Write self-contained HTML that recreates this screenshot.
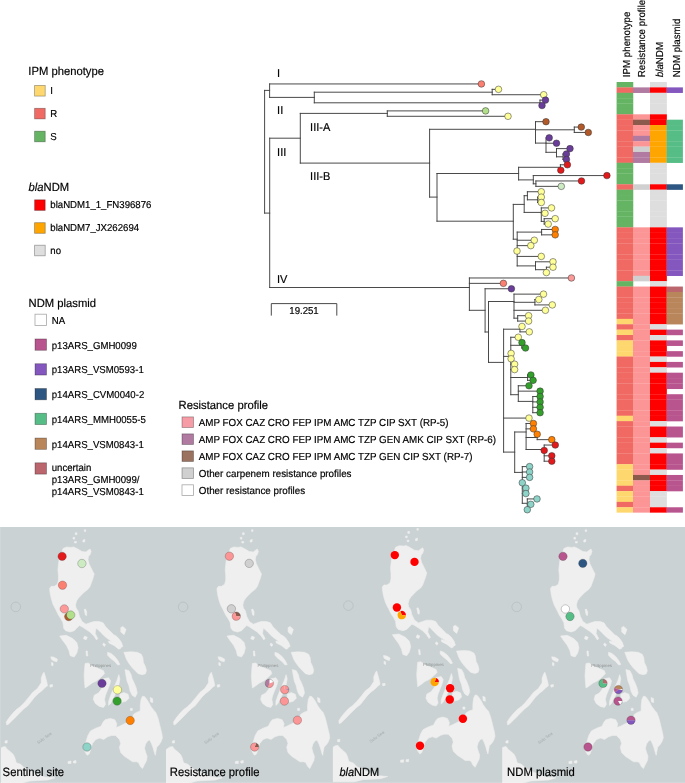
<!DOCTYPE html><html><head><meta charset="utf-8"><style>
html,body{margin:0;padding:0;background:#fff;width:685px;height:783px;overflow:hidden}
svg{display:block;font-family:"Liberation Sans",sans-serif;text-rendering:geometricPrecision;will-change:transform}
</style></head><body>
<svg width="685" height="783" viewBox="0 0 685 783">
<g fill="#000" stroke="#000" stroke-width="0.18">
<text transform="translate(28.3 75) scale(1 1.04)" font-size="11.25">IPM phenotype</text>
<rect x="34.6" y="85.5" width="10.6" height="10.6" fill="#fed86f" stroke="#000" stroke-opacity="0.35" stroke-width="0.8"/>
<text transform="translate(50.3 94.3) scale(1 1.04)" font-size="9.65">I</text>
<rect x="34.6" y="108.3" width="10.6" height="10.6" fill="#f06a63" stroke="#000" stroke-opacity="0.35" stroke-width="0.8"/>
<text transform="translate(50.3 117.1) scale(1 1.04)" font-size="9.65">R</text>
<rect x="34.6" y="131.2" width="10.6" height="10.6" fill="#64b463" stroke="#000" stroke-opacity="0.35" stroke-width="0.8"/>
<text transform="translate(50.3 140) scale(1 1.04)" font-size="9.65">S</text>
<text transform="translate(28.6 190.5) scale(1 1.04)" font-size="11.25"><tspan font-style="italic">bla</tspan>NDM</text>
<rect x="34.6" y="199.8" width="10.6" height="10.6" fill="#ff0000" stroke="#000" stroke-opacity="0.35" stroke-width="0.8"/>
<text transform="translate(50.3 208.4) scale(1 1.04)" font-size="9.65">blaNDM1_1_FN396876</text>
<rect x="34.6" y="222.7" width="10.6" height="10.6" fill="#ffa500" stroke="#000" stroke-opacity="0.35" stroke-width="0.8"/>
<text transform="translate(50.3 231.3) scale(1 1.04)" font-size="9.65">blaNDM7_JX262694</text>
<rect x="34.6" y="245.2" width="10.6" height="10.6" fill="#dedede" stroke="#000" stroke-opacity="0.35" stroke-width="0.8"/>
<text transform="translate(50.3 253.8) scale(1 1.04)" font-size="9.65">no</text>
<text transform="translate(28.6 306.8) scale(1 1.04)" font-size="11.25">NDM plasmid</text>
<rect x="35" y="314.2" width="11.5" height="11.3" fill="#ffffff" stroke="#000" stroke-opacity="0.35" stroke-width="0.8"/>
<text transform="translate(51.7 323.9) scale(1 1.04)" font-size="9.65">NA</text>
<rect x="35" y="338.97" width="11.5" height="11.3" fill="#b9558e" stroke="#000" stroke-opacity="0.35" stroke-width="0.8"/>
<text transform="translate(51.7 348.67) scale(1 1.04)" font-size="9.65">p13ARS_GMH0099</text>
<rect x="35" y="363.74" width="11.5" height="11.3" fill="#8457be" stroke="#000" stroke-opacity="0.35" stroke-width="0.8"/>
<text transform="translate(51.7 373.44) scale(1 1.04)" font-size="9.65">p13ARS_VSM0593-1</text>
<rect x="35" y="388.51" width="11.5" height="11.3" fill="#2d5682" stroke="#000" stroke-opacity="0.35" stroke-width="0.8"/>
<text transform="translate(51.7 398.21) scale(1 1.04)" font-size="9.65">p14ARS_CVM0040-2</text>
<rect x="35" y="413.28" width="11.5" height="11.3" fill="#55bd85" stroke="#000" stroke-opacity="0.35" stroke-width="0.8"/>
<text transform="translate(51.7 422.98) scale(1 1.04)" font-size="9.65">p14ARS_MMH0055-5</text>
<rect x="35" y="438.05" width="11.5" height="11.3" fill="#b9855a" stroke="#000" stroke-opacity="0.35" stroke-width="0.8"/>
<text transform="translate(51.7 447.75) scale(1 1.04)" font-size="9.65">p14ARS_VSM0843-1</text>
<rect x="35" y="462.82" width="11.5" height="11.3" fill="#bb656d" stroke="#000" stroke-opacity="0.35" stroke-width="0.8"/>
<text transform="translate(51.7 471.42) scale(1 1.04)" font-size="9.65">uncertain</text>
<text transform="translate(51.7 483.02) scale(1 1.04)" font-size="9.65">p13ARS_GMH0099/</text>
<text transform="translate(51.7 494.62) scale(1 1.04)" font-size="9.65">p14ARS_VSM0843-1</text>
<text transform="translate(178.6 409.2) scale(1 1.04)" font-size="11.25">Resistance profile</text>
<rect x="182" y="416.9" width="11.5" height="10.6" fill="#f59ca6" stroke="#000" stroke-opacity="0.35" stroke-width="0.8"/>
<text transform="translate(198.8 426) scale(1 1.04)" font-size="9.82">AMP FOX CAZ CRO FEP IPM AMC TZP CIP SXT (RP-5)</text>
<rect x="182" y="433.88" width="11.5" height="10.6" fill="#b07aa1" stroke="#000" stroke-opacity="0.35" stroke-width="0.8"/>
<text transform="translate(198.8 442.98) scale(1 1.04)" font-size="9.82">AMP FOX CAZ CRO FEP IPM AMC TZP GEN AMK CIP SXT (RP-6)</text>
<rect x="182" y="450.86" width="11.5" height="10.6" fill="#9b725f" stroke="#000" stroke-opacity="0.35" stroke-width="0.8"/>
<text transform="translate(198.8 459.96) scale(1 1.04)" font-size="9.82">AMP FOX CAZ CRO FEP IPM AMC TZP GEN CIP SXT (RP-7)</text>
<rect x="182" y="467.84" width="11.5" height="10.6" fill="#d0d0d0" stroke="#000" stroke-opacity="0.35" stroke-width="0.8"/>
<text transform="translate(198.8 476.94) scale(1 1.04)" font-size="9.82">Other carpenem resistance profiles</text>
<rect x="182" y="484.82" width="11.5" height="10.6" fill="#ffffff" stroke="#000" stroke-opacity="0.35" stroke-width="0.8"/>
<text transform="translate(198.8 493.92) scale(1 1.04)" font-size="9.82">Other resistance profiles</text>
<text transform="translate(277.1 76.6) scale(1 1.04)" font-size="11">I</text>
<text transform="translate(277.1 114.1) scale(1 1.04)" font-size="11">II</text>
<text transform="translate(277.1 156) scale(1 1.04)" font-size="11">III</text>
<text transform="translate(310.1 131.1) scale(1 1.04)" font-size="11">III-A</text>
<text transform="translate(310.1 179.9) scale(1 1.04)" font-size="11">III-B</text>
<text transform="translate(277 283.2) scale(1 1.04)" font-size="11">IV</text>
<text transform="translate(304 314.3) scale(1 1.04)" font-size="9.65" text-anchor="middle">19.251</text>
<text transform="translate(629.6,77.2) rotate(-90) scale(1 1.04)" font-size="9.75">IPM phenotype</text>
<text transform="translate(645.2,77.2) rotate(-90) scale(1 1.04)" font-size="9.75">Resistance profile</text>
<text transform="translate(662.6,77.2) rotate(-90) scale(1 1.04)" font-size="9.75"><tspan font-style="italic">bla</tspan>NDM</text>
<text transform="translate(680.3,77.2) rotate(-90) scale(1 1.04)" font-size="9.75">NDM plasmid</text>
</g>
<rect x="616.6" y="82" width="16.65" height="5.58" fill="#64b463"/>
<rect x="650" y="82" width="16.85" height="5.58" fill="#dedede"/>
<rect x="616.6" y="87.38" width="16.65" height="5.58" fill="#f06a63"/>
<rect x="633" y="87.38" width="17.25" height="5.58" fill="#b07aa1"/>
<rect x="650" y="87.38" width="16.85" height="5.58" fill="#ff0000"/>
<rect x="666.6" y="87.38" width="16.3" height="5.58" fill="#8457be"/>
<rect x="616.6" y="92.77" width="16.65" height="5.58" fill="#64b463"/>
<rect x="650" y="92.77" width="16.85" height="5.58" fill="#dedede"/>
<rect x="616.6" y="98.15" width="16.65" height="5.58" fill="#64b463"/>
<rect x="650" y="98.15" width="16.85" height="5.58" fill="#dedede"/>
<rect x="616.6" y="103.53" width="16.65" height="5.58" fill="#64b463"/>
<rect x="650" y="103.53" width="16.85" height="5.58" fill="#dedede"/>
<rect x="616.6" y="108.91" width="16.65" height="5.58" fill="#64b463"/>
<rect x="650" y="108.91" width="16.85" height="5.58" fill="#dedede"/>
<rect x="616.6" y="114.3" width="16.65" height="5.58" fill="#f06a63"/>
<rect x="633" y="114.3" width="17.25" height="5.58" fill="#fc9595"/>
<rect x="650" y="114.3" width="16.85" height="5.58" fill="#ff0000"/>
<rect x="616.6" y="119.68" width="16.65" height="5.58" fill="#f06a63"/>
<rect x="633" y="119.68" width="17.25" height="5.58" fill="#8c5a4c"/>
<rect x="650" y="119.68" width="16.85" height="5.58" fill="#ff0000"/>
<rect x="666.6" y="119.68" width="16.3" height="5.58" fill="#55bd85"/>
<rect x="616.6" y="125.06" width="16.65" height="5.58" fill="#f06a63"/>
<rect x="633" y="125.06" width="17.25" height="5.58" fill="#fc9595"/>
<rect x="650" y="125.06" width="16.85" height="5.58" fill="#ffa500"/>
<rect x="666.6" y="125.06" width="16.3" height="5.58" fill="#55bd85"/>
<rect x="616.6" y="130.45" width="16.65" height="5.58" fill="#f06a63"/>
<rect x="633" y="130.45" width="17.25" height="5.58" fill="#fc9595"/>
<rect x="650" y="130.45" width="16.85" height="5.58" fill="#ffa500"/>
<rect x="666.6" y="130.45" width="16.3" height="5.58" fill="#55bd85"/>
<rect x="616.6" y="135.83" width="16.65" height="5.58" fill="#f06a63"/>
<rect x="633" y="135.83" width="17.25" height="5.58" fill="#b07aa1"/>
<rect x="650" y="135.83" width="16.85" height="5.58" fill="#ffa500"/>
<rect x="666.6" y="135.83" width="16.3" height="5.58" fill="#55bd85"/>
<rect x="616.6" y="141.21" width="16.65" height="5.58" fill="#f06a63"/>
<rect x="633" y="141.21" width="17.25" height="5.58" fill="#fc9595"/>
<rect x="650" y="141.21" width="16.85" height="5.58" fill="#ffa500"/>
<rect x="666.6" y="141.21" width="16.3" height="5.58" fill="#55bd85"/>
<rect x="616.6" y="146.6" width="16.65" height="5.58" fill="#f06a63"/>
<rect x="633" y="146.6" width="17.25" height="5.58" fill="#d0d0d0"/>
<rect x="650" y="146.6" width="16.85" height="5.58" fill="#ffa500"/>
<rect x="666.6" y="146.6" width="16.3" height="5.58" fill="#55bd85"/>
<rect x="616.6" y="151.98" width="16.65" height="5.58" fill="#f06a63"/>
<rect x="633" y="151.98" width="17.25" height="5.58" fill="#b07aa1"/>
<rect x="650" y="151.98" width="16.85" height="5.58" fill="#ffa500"/>
<rect x="666.6" y="151.98" width="16.3" height="5.58" fill="#55bd85"/>
<rect x="616.6" y="157.36" width="16.65" height="5.58" fill="#f06a63"/>
<rect x="633" y="157.36" width="17.25" height="5.58" fill="#b07aa1"/>
<rect x="650" y="157.36" width="16.85" height="5.58" fill="#ffa500"/>
<rect x="666.6" y="157.36" width="16.3" height="5.58" fill="#55bd85"/>
<rect x="616.6" y="162.75" width="16.65" height="5.58" fill="#64b463"/>
<rect x="650" y="162.75" width="16.85" height="5.58" fill="#dedede"/>
<rect x="616.6" y="168.13" width="16.65" height="5.58" fill="#64b463"/>
<rect x="650" y="168.13" width="16.85" height="5.58" fill="#dedede"/>
<rect x="616.6" y="173.51" width="16.65" height="5.58" fill="#64b463"/>
<rect x="650" y="173.51" width="16.85" height="5.58" fill="#dedede"/>
<rect x="616.6" y="178.89" width="16.65" height="5.58" fill="#64b463"/>
<rect x="650" y="178.89" width="16.85" height="5.58" fill="#dedede"/>
<rect x="616.6" y="184.28" width="16.65" height="5.58" fill="#f06a63"/>
<rect x="633" y="184.28" width="17.25" height="5.58" fill="#d0d0d0"/>
<rect x="650" y="184.28" width="16.85" height="5.58" fill="#ff0000"/>
<rect x="666.6" y="184.28" width="16.3" height="5.58" fill="#2d5682"/>
<rect x="616.6" y="189.66" width="16.65" height="5.58" fill="#64b463"/>
<rect x="650" y="189.66" width="16.85" height="5.58" fill="#dedede"/>
<rect x="616.6" y="195.04" width="16.65" height="5.58" fill="#64b463"/>
<rect x="650" y="195.04" width="16.85" height="5.58" fill="#dedede"/>
<rect x="616.6" y="200.43" width="16.65" height="5.58" fill="#64b463"/>
<rect x="650" y="200.43" width="16.85" height="5.58" fill="#dedede"/>
<rect x="616.6" y="205.81" width="16.65" height="5.58" fill="#64b463"/>
<rect x="650" y="205.81" width="16.85" height="5.58" fill="#dedede"/>
<rect x="616.6" y="211.19" width="16.65" height="5.58" fill="#64b463"/>
<rect x="650" y="211.19" width="16.85" height="5.58" fill="#dedede"/>
<rect x="616.6" y="216.57" width="16.65" height="5.58" fill="#64b463"/>
<rect x="650" y="216.57" width="16.85" height="5.58" fill="#dedede"/>
<rect x="616.6" y="221.96" width="16.65" height="5.58" fill="#64b463"/>
<rect x="650" y="221.96" width="16.85" height="5.58" fill="#dedede"/>
<rect x="616.6" y="227.34" width="16.65" height="5.58" fill="#f06a63"/>
<rect x="633" y="227.34" width="17.25" height="5.58" fill="#fc9595"/>
<rect x="650" y="227.34" width="16.85" height="5.58" fill="#ff0000"/>
<rect x="666.6" y="227.34" width="16.3" height="5.58" fill="#8457be"/>
<rect x="616.6" y="232.72" width="16.65" height="5.58" fill="#f06a63"/>
<rect x="633" y="232.72" width="17.25" height="5.58" fill="#fc9595"/>
<rect x="650" y="232.72" width="16.85" height="5.58" fill="#ff0000"/>
<rect x="666.6" y="232.72" width="16.3" height="5.58" fill="#8457be"/>
<rect x="616.6" y="238.11" width="16.65" height="5.58" fill="#f06a63"/>
<rect x="633" y="238.11" width="17.25" height="5.58" fill="#fc9595"/>
<rect x="650" y="238.11" width="16.85" height="5.58" fill="#ff0000"/>
<rect x="666.6" y="238.11" width="16.3" height="5.58" fill="#8457be"/>
<rect x="616.6" y="243.49" width="16.65" height="5.58" fill="#f06a63"/>
<rect x="633" y="243.49" width="17.25" height="5.58" fill="#fc9595"/>
<rect x="650" y="243.49" width="16.85" height="5.58" fill="#ff0000"/>
<rect x="666.6" y="243.49" width="16.3" height="5.58" fill="#8457be"/>
<rect x="616.6" y="248.87" width="16.65" height="5.58" fill="#f06a63"/>
<rect x="633" y="248.87" width="17.25" height="5.58" fill="#fc9595"/>
<rect x="650" y="248.87" width="16.85" height="5.58" fill="#ff0000"/>
<rect x="666.6" y="248.87" width="16.3" height="5.58" fill="#8457be"/>
<rect x="616.6" y="254.26" width="16.65" height="5.58" fill="#f06a63"/>
<rect x="633" y="254.26" width="17.25" height="5.58" fill="#fc9595"/>
<rect x="650" y="254.26" width="16.85" height="5.58" fill="#ff0000"/>
<rect x="666.6" y="254.26" width="16.3" height="5.58" fill="#8457be"/>
<rect x="616.6" y="259.64" width="16.65" height="5.58" fill="#f06a63"/>
<rect x="633" y="259.64" width="17.25" height="5.58" fill="#fc9595"/>
<rect x="650" y="259.64" width="16.85" height="5.58" fill="#ff0000"/>
<rect x="666.6" y="259.64" width="16.3" height="5.58" fill="#8457be"/>
<rect x="616.6" y="265.02" width="16.65" height="5.58" fill="#f06a63"/>
<rect x="633" y="265.02" width="17.25" height="5.58" fill="#fc9595"/>
<rect x="650" y="265.02" width="16.85" height="5.58" fill="#ff0000"/>
<rect x="666.6" y="265.02" width="16.3" height="5.58" fill="#8457be"/>
<rect x="616.6" y="270.4" width="16.65" height="5.58" fill="#f06a63"/>
<rect x="633" y="270.4" width="17.25" height="5.58" fill="#fc9595"/>
<rect x="650" y="270.4" width="16.85" height="5.58" fill="#ff0000"/>
<rect x="666.6" y="270.4" width="16.3" height="5.58" fill="#8457be"/>
<rect x="616.6" y="275.79" width="16.65" height="5.58" fill="#f06a63"/>
<rect x="633" y="275.79" width="17.25" height="5.58" fill="#d0d0d0"/>
<rect x="650" y="275.79" width="16.85" height="5.58" fill="#ff0000"/>
<rect x="616.6" y="281.17" width="16.65" height="5.58" fill="#64b463"/>
<rect x="650" y="281.17" width="16.85" height="5.58" fill="#dedede"/>
<rect x="616.6" y="286.55" width="16.65" height="5.58" fill="#f06a63"/>
<rect x="633" y="286.55" width="17.25" height="5.58" fill="#fc9595"/>
<rect x="650" y="286.55" width="16.85" height="5.58" fill="#ff0000"/>
<rect x="666.6" y="286.55" width="16.3" height="5.58" fill="#bb656d"/>
<rect x="616.6" y="291.94" width="16.65" height="5.58" fill="#f06a63"/>
<rect x="633" y="291.94" width="17.25" height="5.58" fill="#fc9595"/>
<rect x="650" y="291.94" width="16.85" height="5.58" fill="#ff0000"/>
<rect x="666.6" y="291.94" width="16.3" height="5.58" fill="#b9855a"/>
<rect x="616.6" y="297.32" width="16.65" height="5.58" fill="#f06a63"/>
<rect x="633" y="297.32" width="17.25" height="5.58" fill="#fc9595"/>
<rect x="650" y="297.32" width="16.85" height="5.58" fill="#ff0000"/>
<rect x="666.6" y="297.32" width="16.3" height="5.58" fill="#b9855a"/>
<rect x="616.6" y="302.7" width="16.65" height="5.58" fill="#f06a63"/>
<rect x="633" y="302.7" width="17.25" height="5.58" fill="#fc9595"/>
<rect x="650" y="302.7" width="16.85" height="5.58" fill="#ff0000"/>
<rect x="666.6" y="302.7" width="16.3" height="5.58" fill="#b9855a"/>
<rect x="616.6" y="308.09" width="16.65" height="5.58" fill="#f06a63"/>
<rect x="633" y="308.09" width="17.25" height="5.58" fill="#fc9595"/>
<rect x="650" y="308.09" width="16.85" height="5.58" fill="#ff0000"/>
<rect x="666.6" y="308.09" width="16.3" height="5.58" fill="#b9855a"/>
<rect x="616.6" y="313.47" width="16.65" height="5.58" fill="#f06a63"/>
<rect x="633" y="313.47" width="17.25" height="5.58" fill="#fc9595"/>
<rect x="650" y="313.47" width="16.85" height="5.58" fill="#ff0000"/>
<rect x="666.6" y="313.47" width="16.3" height="5.58" fill="#b9855a"/>
<rect x="616.6" y="318.85" width="16.65" height="5.58" fill="#fed86f"/>
<rect x="633" y="318.85" width="17.25" height="5.58" fill="#fc9595"/>
<rect x="650" y="318.85" width="16.85" height="5.58" fill="#ff0000"/>
<rect x="666.6" y="318.85" width="16.3" height="5.58" fill="#b9855a"/>
<rect x="616.6" y="324.24" width="16.65" height="5.58" fill="#f06a63"/>
<rect x="633" y="324.24" width="17.25" height="5.58" fill="#fc9595"/>
<rect x="650" y="324.24" width="16.85" height="5.58" fill="#dedede"/>
<rect x="616.6" y="329.62" width="16.65" height="5.58" fill="#fed86f"/>
<rect x="633" y="329.62" width="17.25" height="5.58" fill="#fc9595"/>
<rect x="650" y="329.62" width="16.85" height="5.58" fill="#ff0000"/>
<rect x="666.6" y="329.62" width="16.3" height="5.58" fill="#b9558e"/>
<rect x="616.6" y="335" width="16.65" height="5.58" fill="#f06a63"/>
<rect x="633" y="335" width="17.25" height="5.58" fill="#fc9595"/>
<rect x="650" y="335" width="16.85" height="5.58" fill="#dedede"/>
<rect x="616.6" y="340.38" width="16.65" height="5.58" fill="#fed86f"/>
<rect x="633" y="340.38" width="17.25" height="5.58" fill="#fc9595"/>
<rect x="650" y="340.38" width="16.85" height="5.58" fill="#ff0000"/>
<rect x="666.6" y="340.38" width="16.3" height="5.58" fill="#b9558e"/>
<rect x="616.6" y="345.77" width="16.65" height="5.58" fill="#fed86f"/>
<rect x="633" y="345.77" width="17.25" height="5.58" fill="#fc9595"/>
<rect x="650" y="345.77" width="16.85" height="5.58" fill="#ff0000"/>
<rect x="616.6" y="351.15" width="16.65" height="5.58" fill="#fed86f"/>
<rect x="633" y="351.15" width="17.25" height="5.58" fill="#fc9595"/>
<rect x="650" y="351.15" width="16.85" height="5.58" fill="#ff0000"/>
<rect x="666.6" y="351.15" width="16.3" height="5.58" fill="#b9558e"/>
<rect x="616.6" y="356.53" width="16.65" height="5.58" fill="#f06a63"/>
<rect x="633" y="356.53" width="17.25" height="5.58" fill="#fc9595"/>
<rect x="650" y="356.53" width="16.85" height="5.58" fill="#dedede"/>
<rect x="616.6" y="361.92" width="16.65" height="5.58" fill="#f06a63"/>
<rect x="633" y="361.92" width="17.25" height="5.58" fill="#fc9595"/>
<rect x="650" y="361.92" width="16.85" height="5.58" fill="#ff0000"/>
<rect x="666.6" y="361.92" width="16.3" height="5.58" fill="#b9558e"/>
<rect x="616.6" y="367.3" width="16.65" height="5.58" fill="#f06a63"/>
<rect x="633" y="367.3" width="17.25" height="5.58" fill="#fc9595"/>
<rect x="650" y="367.3" width="16.85" height="5.58" fill="#dedede"/>
<rect x="616.6" y="372.68" width="16.65" height="5.58" fill="#f06a63"/>
<rect x="633" y="372.68" width="17.25" height="5.58" fill="#fc9595"/>
<rect x="650" y="372.68" width="16.85" height="5.58" fill="#ff0000"/>
<rect x="666.6" y="372.68" width="16.3" height="5.58" fill="#b9558e"/>
<rect x="616.6" y="378.06" width="16.65" height="5.58" fill="#f06a63"/>
<rect x="633" y="378.06" width="17.25" height="5.58" fill="#fc9595"/>
<rect x="650" y="378.06" width="16.85" height="5.58" fill="#ff0000"/>
<rect x="666.6" y="378.06" width="16.3" height="5.58" fill="#b9558e"/>
<rect x="616.6" y="383.45" width="16.65" height="5.58" fill="#f06a63"/>
<rect x="633" y="383.45" width="17.25" height="5.58" fill="#fc9595"/>
<rect x="650" y="383.45" width="16.85" height="5.58" fill="#ff0000"/>
<rect x="666.6" y="383.45" width="16.3" height="5.58" fill="#b9558e"/>
<rect x="616.6" y="388.83" width="16.65" height="5.58" fill="#f06a63"/>
<rect x="633" y="388.83" width="17.25" height="5.58" fill="#fc9595"/>
<rect x="650" y="388.83" width="16.85" height="5.58" fill="#ff0000"/>
<rect x="616.6" y="394.21" width="16.65" height="5.58" fill="#f06a63"/>
<rect x="633" y="394.21" width="17.25" height="5.58" fill="#fc9595"/>
<rect x="650" y="394.21" width="16.85" height="5.58" fill="#ff0000"/>
<rect x="666.6" y="394.21" width="16.3" height="5.58" fill="#b9558e"/>
<rect x="616.6" y="399.6" width="16.65" height="5.58" fill="#f06a63"/>
<rect x="633" y="399.6" width="17.25" height="5.58" fill="#fc9595"/>
<rect x="650" y="399.6" width="16.85" height="5.58" fill="#ff0000"/>
<rect x="666.6" y="399.6" width="16.3" height="5.58" fill="#b9558e"/>
<rect x="616.6" y="404.98" width="16.65" height="5.58" fill="#f06a63"/>
<rect x="633" y="404.98" width="17.25" height="5.58" fill="#fc9595"/>
<rect x="650" y="404.98" width="16.85" height="5.58" fill="#ff0000"/>
<rect x="666.6" y="404.98" width="16.3" height="5.58" fill="#b9558e"/>
<rect x="616.6" y="410.36" width="16.65" height="5.58" fill="#f06a63"/>
<rect x="633" y="410.36" width="17.25" height="5.58" fill="#fc9595"/>
<rect x="650" y="410.36" width="16.85" height="5.58" fill="#ff0000"/>
<rect x="666.6" y="410.36" width="16.3" height="5.58" fill="#b9558e"/>
<rect x="616.6" y="415.75" width="16.65" height="5.58" fill="#fed86f"/>
<rect x="633" y="415.75" width="17.25" height="5.58" fill="#fc9595"/>
<rect x="650" y="415.75" width="16.85" height="5.58" fill="#ff0000"/>
<rect x="666.6" y="415.75" width="16.3" height="5.58" fill="#b9558e"/>
<rect x="616.6" y="421.13" width="16.65" height="5.58" fill="#f06a63"/>
<rect x="633" y="421.13" width="17.25" height="5.58" fill="#fc9595"/>
<rect x="650" y="421.13" width="16.85" height="5.58" fill="#dedede"/>
<rect x="616.6" y="426.51" width="16.65" height="5.58" fill="#f06a63"/>
<rect x="633" y="426.51" width="17.25" height="5.58" fill="#fc9595"/>
<rect x="650" y="426.51" width="16.85" height="5.58" fill="#ff0000"/>
<rect x="666.6" y="426.51" width="16.3" height="5.58" fill="#b9558e"/>
<rect x="616.6" y="431.89" width="16.65" height="5.58" fill="#f06a63"/>
<rect x="633" y="431.89" width="17.25" height="5.58" fill="#fc9595"/>
<rect x="650" y="431.89" width="16.85" height="5.58" fill="#ff0000"/>
<rect x="666.6" y="431.89" width="16.3" height="5.58" fill="#b9558e"/>
<rect x="616.6" y="437.28" width="16.65" height="5.58" fill="#f06a63"/>
<rect x="633" y="437.28" width="17.25" height="5.58" fill="#fc9595"/>
<rect x="650" y="437.28" width="16.85" height="5.58" fill="#dedede"/>
<rect x="616.6" y="442.66" width="16.65" height="5.58" fill="#f06a63"/>
<rect x="633" y="442.66" width="17.25" height="5.58" fill="#fc9595"/>
<rect x="650" y="442.66" width="16.85" height="5.58" fill="#ff0000"/>
<rect x="666.6" y="442.66" width="16.3" height="5.58" fill="#b9558e"/>
<rect x="616.6" y="448.04" width="16.65" height="5.58" fill="#f06a63"/>
<rect x="633" y="448.04" width="17.25" height="5.58" fill="#fc9595"/>
<rect x="650" y="448.04" width="16.85" height="5.58" fill="#dedede"/>
<rect x="616.6" y="453.43" width="16.65" height="5.58" fill="#f06a63"/>
<rect x="633" y="453.43" width="17.25" height="5.58" fill="#fc9595"/>
<rect x="650" y="453.43" width="16.85" height="5.58" fill="#ff0000"/>
<rect x="666.6" y="453.43" width="16.3" height="5.58" fill="#b9558e"/>
<rect x="616.6" y="458.81" width="16.65" height="5.58" fill="#f06a63"/>
<rect x="633" y="458.81" width="17.25" height="5.58" fill="#fc9595"/>
<rect x="650" y="458.81" width="16.85" height="5.58" fill="#ff0000"/>
<rect x="666.6" y="458.81" width="16.3" height="5.58" fill="#b9558e"/>
<rect x="616.6" y="464.19" width="16.65" height="5.58" fill="#fed86f"/>
<rect x="633" y="464.19" width="17.25" height="5.58" fill="#fc9595"/>
<rect x="650" y="464.19" width="16.85" height="5.58" fill="#ff0000"/>
<rect x="666.6" y="464.19" width="16.3" height="5.58" fill="#b9558e"/>
<rect x="616.6" y="469.58" width="16.65" height="5.58" fill="#fed86f"/>
<rect x="633" y="469.58" width="17.25" height="5.58" fill="#fc9595"/>
<rect x="650" y="469.58" width="16.85" height="5.58" fill="#dedede"/>
<rect x="616.6" y="474.96" width="16.65" height="5.58" fill="#fed86f"/>
<rect x="633" y="474.96" width="17.25" height="5.58" fill="#8c5a4c"/>
<rect x="650" y="474.96" width="16.85" height="5.58" fill="#ff0000"/>
<rect x="666.6" y="474.96" width="16.3" height="5.58" fill="#b9558e"/>
<rect x="616.6" y="480.34" width="16.65" height="5.58" fill="#fed86f"/>
<rect x="633" y="480.34" width="17.25" height="5.58" fill="#fc9595"/>
<rect x="650" y="480.34" width="16.85" height="5.58" fill="#ff0000"/>
<rect x="666.6" y="480.34" width="16.3" height="5.58" fill="#b9558e"/>
<rect x="616.6" y="485.73" width="16.65" height="5.58" fill="#f06a63"/>
<rect x="633" y="485.73" width="17.25" height="5.58" fill="#fc9595"/>
<rect x="650" y="485.73" width="16.85" height="5.58" fill="#ff0000"/>
<rect x="666.6" y="485.73" width="16.3" height="5.58" fill="#b9558e"/>
<rect x="616.6" y="491.11" width="16.65" height="5.58" fill="#fed86f"/>
<rect x="633" y="491.11" width="17.25" height="5.58" fill="#fc9595"/>
<rect x="650" y="491.11" width="16.85" height="5.58" fill="#dedede"/>
<rect x="616.6" y="496.49" width="16.65" height="5.58" fill="#fed86f"/>
<rect x="633" y="496.49" width="17.25" height="5.58" fill="#fc9595"/>
<rect x="650" y="496.49" width="16.85" height="5.58" fill="#dedede"/>
<rect x="616.6" y="501.87" width="16.65" height="5.58" fill="#f06a63"/>
<rect x="633" y="501.87" width="17.25" height="5.58" fill="#fc9595"/>
<rect x="650" y="501.87" width="16.85" height="5.58" fill="#dedede"/>
<rect x="616.6" y="507.26" width="16.65" height="5.38" fill="#fed86f"/>
<rect x="633" y="507.26" width="17.25" height="5.38" fill="#fc9595"/>
<rect x="650" y="507.26" width="16.85" height="5.38" fill="#ff0000"/>
<rect x="666.6" y="507.26" width="16.3" height="5.38" fill="#b9558e"/>
<path d="M264.6 90.4V213.1M269.6 83.95V97.4M314.3 92.2V102.8M492.2 89.34V94.73M540 100.12V105.51M269.7 138.2V287.5M300.3 113.4V163.1M387.3 110.9V116.29M429.6 129.3V197.1M535.5 121.68V143.1M574.3 127.07V132.45M546 137.84V152.3M556.5 148.62V156.8M563 154.01V159.4M437 173.5V221.2M518.6 167.3V179.9M560.4 164.79V170.18M533.3 175.57V183.8M535.9 180.96V186.35M513.3 204.4V239.2M524.2 195.7V212.4M527.4 191.74V199.8M537.7 197.13V202.52M541.3 207.91V221.4M544.2 218.69V224.07M517.2 232.1V265.9M541.6 229.46V234.85M535.5 261.8V269.7M546.4 267.19V272.58M469.4 277.97V310.3M485.1 288.75V332M488.5 301.5V362.4M514 294.14V318.2M534.9 299.53V304.92M517.7 315.69V321.08M503.6 329.2V452.1M520 326.47V331.86M510.8 337.25V394.7M521.8 342.64V348.03M527.6 374.98V380.37M518.3 385.76V401.4M532.8 396.54V412.7M514.7 432V472.4M526.1 423.48V449.5M537.2 434.26V439.65M544.2 445.04V461.21M522.3 466.6V503.3M527.3 498.93V509.71M264.6 90.4H269.6M269.6 83.95H481.4M269.6 97.4H314.3M314.3 92.2H492.2M492.2 89.34H498.5M492.2 94.73H543.7M314.3 102.8H540M540 100.12H545.5M540 105.51H542M264.6 213.1H269.7M269.7 138.2H300.3M300.3 113.4H387.3M387.3 110.9H485.6M387.3 116.29H508M300.3 163.1H429.6M429.6 129.3H535.5M535.5 121.68H546M535.5 129.8H574.3M574.3 127.07H581.3M574.3 132.45H588.3M535.5 143.1H546M546 143.23H556.5M546 152.3H556.5M556.5 148.62H570M556.5 156.8H563M563 154.01H566.4M563 159.4H566.4M429.6 197.1H437M437 173.5H518.6M518.6 167.3H560.4M560.4 164.79H567.4M518.6 179.9H533.3M533.3 175.57H606.9M533.3 183.8H535.9M535.9 180.96H581.5M535.9 186.35H561.3M437 221.2H513.3M513.3 204.4H524.2M524.2 195.7H527.4M527.4 191.74H541.3M527.4 199.8H537.7M537.7 197.13H541.3M537.7 202.52H541.3M524.2 212.4H541.3M541.3 207.91H551.5M541.3 213.3H545M541.3 221.4H544.2M544.2 218.69H555.2M544.2 224.07H548.2M513.3 239.2H517.2M517.2 232.1H541.6M541.6 229.46H555.2M541.6 234.85H555.2M517.2 240.24H534.3M517.2 245.63H530.8M517.2 256.41H541.3M517.2 265.9H535.5M535.5 261.8H553M535.5 269.7H546.4M546.4 267.19H553M269.7 287.5H469.4M469.4 277.97H571.4M469.4 283.36H503.4M469.4 310.3H485.1M485.1 288.75H511.4M485.1 332H488.5M488.5 301.5H514M514 294.14H543.5M514 302.3H534.9M534.9 299.53H538.8M534.9 304.92H552.3M514 310.3H545.4M514 318.2H517.7M517.7 315.69H528.6M517.7 321.08H528.6M488.5 362.4H503.6M503.6 329.2H520M520 326.47H522M520 331.86H529.3M503.6 356.4H510.8M510.8 337.25H518.3M510.8 345.3H521.8M521.8 348.03H525.5M510.8 364.2H514.6M510.8 369.59H514.6M510.8 377.5H527.6M527.6 374.98H530.9M527.6 380.37H533.1M510.8 394.7H518.3M518.3 385.76H529M518.3 391.15H540.1M518.3 401.4H532.8M532.8 396.54H540.1M532.8 401.92H540.1M532.8 407.31H540.1M532.8 412.7H540.1M503.6 418.09H529M503.6 452.1H514.7M514.7 432H526.1M526.1 423.48H533.4M526.1 428.87H533.4M526.1 437.5H537.2M537.2 439.65H551.8M526.1 449.5H544.2M544.2 445.04H555.3M544.2 455.82H551.8M544.2 461.21H551.8M514.7 472.4H522.3M522.3 466.6H529.6M522.3 471.99H529.6M522.3 477.38H529.6M522.3 488.16H525.9M522.3 493.54H525.9M522.3 503.3H527.3M527.3 498.93H537M527.3 504.32H530.8" fill="none" stroke="#404040" stroke-width="0.95" stroke-linecap="square"/>
<path d="M271.3 315.6V303.6H336.8V315.6" fill="none" stroke="#404040" stroke-width="0.95"/>
<circle cx="481.4" cy="83.95" r="3.3" fill="#fb8072" stroke="#333" stroke-opacity="0.85" stroke-width="0.6"/>
<circle cx="498.5" cy="89.34" r="3.3" fill="#ffff99" stroke="#333" stroke-opacity="0.85" stroke-width="0.6"/>
<circle cx="543.7" cy="94.73" r="3.3" fill="#ffff99" stroke="#333" stroke-opacity="0.85" stroke-width="0.6"/>
<circle cx="545.5" cy="100.12" r="3.3" fill="#6a3d9a" stroke="#333" stroke-opacity="0.85" stroke-width="0.6"/>
<circle cx="542" cy="105.51" r="3.3" fill="#6a3d9a" stroke="#333" stroke-opacity="0.85" stroke-width="0.6"/>
<circle cx="485.6" cy="110.9" r="3.3" fill="#b2df8a" stroke="#333" stroke-opacity="0.85" stroke-width="0.6"/>
<circle cx="508" cy="116.29" r="3.3" fill="#ffff99" stroke="#333" stroke-opacity="0.85" stroke-width="0.6"/>
<circle cx="546" cy="121.68" r="3.3" fill="#b15928" stroke="#333" stroke-opacity="0.85" stroke-width="0.6"/>
<circle cx="581.3" cy="127.07" r="3.3" fill="#b15928" stroke="#333" stroke-opacity="0.85" stroke-width="0.6"/>
<circle cx="588.3" cy="132.45" r="3.3" fill="#b15928" stroke="#333" stroke-opacity="0.85" stroke-width="0.6"/>
<circle cx="549.2" cy="137.84" r="3.3" fill="#6a3d9a" stroke="#333" stroke-opacity="0.85" stroke-width="0.6"/>
<circle cx="556.5" cy="143.23" r="3.3" fill="#6a3d9a" stroke="#333" stroke-opacity="0.85" stroke-width="0.6"/>
<circle cx="570" cy="148.62" r="3.3" fill="#6a3d9a" stroke="#333" stroke-opacity="0.85" stroke-width="0.6"/>
<circle cx="566.4" cy="154.01" r="3.3" fill="#6a3d9a" stroke="#333" stroke-opacity="0.85" stroke-width="0.6"/>
<circle cx="566.4" cy="159.4" r="3.3" fill="#6a3d9a" stroke="#333" stroke-opacity="0.85" stroke-width="0.6"/>
<circle cx="567.4" cy="164.79" r="3.3" fill="#e31a1c" stroke="#333" stroke-opacity="0.85" stroke-width="0.6"/>
<circle cx="560.8" cy="170.18" r="3.3" fill="#e31a1c" stroke="#333" stroke-opacity="0.85" stroke-width="0.6"/>
<circle cx="606.9" cy="175.57" r="3.3" fill="#e31a1c" stroke="#333" stroke-opacity="0.85" stroke-width="0.6"/>
<circle cx="581.5" cy="180.96" r="3.3" fill="#e31a1c" stroke="#333" stroke-opacity="0.85" stroke-width="0.6"/>
<circle cx="561.3" cy="186.35" r="3.3" fill="#cdebc3" stroke="#333" stroke-opacity="0.85" stroke-width="0.6"/>
<circle cx="541.3" cy="191.74" r="3.3" fill="#ffff99" stroke="#333" stroke-opacity="0.85" stroke-width="0.6"/>
<circle cx="541.3" cy="197.13" r="3.3" fill="#ffff99" stroke="#333" stroke-opacity="0.85" stroke-width="0.6"/>
<circle cx="541.3" cy="202.52" r="3.3" fill="#ffff99" stroke="#333" stroke-opacity="0.85" stroke-width="0.6"/>
<circle cx="551.5" cy="207.91" r="3.3" fill="#ffff99" stroke="#333" stroke-opacity="0.85" stroke-width="0.6"/>
<circle cx="545" cy="213.3" r="3.3" fill="#ffff99" stroke="#333" stroke-opacity="0.85" stroke-width="0.6"/>
<circle cx="555.2" cy="218.69" r="3.3" fill="#ffff99" stroke="#333" stroke-opacity="0.85" stroke-width="0.6"/>
<circle cx="548.2" cy="224.07" r="3.3" fill="#ffff99" stroke="#333" stroke-opacity="0.85" stroke-width="0.6"/>
<circle cx="555.2" cy="229.46" r="3.3" fill="#ff7f00" stroke="#333" stroke-opacity="0.85" stroke-width="0.6"/>
<circle cx="555.2" cy="234.85" r="3.3" fill="#ff7f00" stroke="#333" stroke-opacity="0.85" stroke-width="0.6"/>
<circle cx="534.3" cy="240.24" r="3.3" fill="#ffff99" stroke="#333" stroke-opacity="0.85" stroke-width="0.6"/>
<circle cx="530.8" cy="245.63" r="3.3" fill="#ffff99" stroke="#333" stroke-opacity="0.85" stroke-width="0.6"/>
<circle cx="517" cy="251.02" r="3.3" fill="#ffff99" stroke="#333" stroke-opacity="0.85" stroke-width="0.6"/>
<circle cx="541.3" cy="256.41" r="3.3" fill="#ffff99" stroke="#333" stroke-opacity="0.85" stroke-width="0.6"/>
<circle cx="553" cy="261.8" r="3.3" fill="#ffff99" stroke="#333" stroke-opacity="0.85" stroke-width="0.6"/>
<circle cx="553" cy="267.19" r="3.3" fill="#ffff99" stroke="#333" stroke-opacity="0.85" stroke-width="0.6"/>
<circle cx="546.4" cy="272.58" r="3.3" fill="#ffff99" stroke="#333" stroke-opacity="0.85" stroke-width="0.6"/>
<circle cx="571.4" cy="277.97" r="3.3" fill="#fb9a99" stroke="#333" stroke-opacity="0.85" stroke-width="0.6"/>
<circle cx="503.4" cy="283.36" r="3.3" fill="#fb8072" stroke="#333" stroke-opacity="0.85" stroke-width="0.6"/>
<circle cx="511.4" cy="288.75" r="3.3" fill="#6a3d9a" stroke="#333" stroke-opacity="0.85" stroke-width="0.6"/>
<circle cx="543.5" cy="294.14" r="3.3" fill="#ffff99" stroke="#333" stroke-opacity="0.85" stroke-width="0.6"/>
<circle cx="538.8" cy="299.53" r="3.3" fill="#ffff99" stroke="#333" stroke-opacity="0.85" stroke-width="0.6"/>
<circle cx="552.3" cy="304.92" r="3.3" fill="#ffff99" stroke="#333" stroke-opacity="0.85" stroke-width="0.6"/>
<circle cx="545.4" cy="310.3" r="3.3" fill="#ffff99" stroke="#333" stroke-opacity="0.85" stroke-width="0.6"/>
<circle cx="528.6" cy="315.69" r="3.3" fill="#ffff99" stroke="#333" stroke-opacity="0.85" stroke-width="0.6"/>
<circle cx="528.6" cy="321.08" r="3.3" fill="#ffff99" stroke="#333" stroke-opacity="0.85" stroke-width="0.6"/>
<circle cx="522" cy="326.47" r="3.3" fill="#ffff99" stroke="#333" stroke-opacity="0.85" stroke-width="0.6"/>
<circle cx="529.3" cy="331.86" r="3.3" fill="#ffff99" stroke="#333" stroke-opacity="0.85" stroke-width="0.6"/>
<circle cx="518.3" cy="337.25" r="3.3" fill="#ffff99" stroke="#333" stroke-opacity="0.85" stroke-width="0.6"/>
<circle cx="522" cy="342.64" r="3.3" fill="#33a02c" stroke="#333" stroke-opacity="0.85" stroke-width="0.6"/>
<circle cx="525.5" cy="348.03" r="3.3" fill="#33a02c" stroke="#333" stroke-opacity="0.85" stroke-width="0.6"/>
<circle cx="511.1" cy="353.42" r="3.3" fill="#ffff99" stroke="#333" stroke-opacity="0.85" stroke-width="0.6"/>
<circle cx="511.1" cy="358.81" r="3.3" fill="#ffff99" stroke="#333" stroke-opacity="0.85" stroke-width="0.6"/>
<circle cx="514.6" cy="364.2" r="3.3" fill="#ffff99" stroke="#333" stroke-opacity="0.85" stroke-width="0.6"/>
<circle cx="514.6" cy="369.59" r="3.3" fill="#ffff99" stroke="#333" stroke-opacity="0.85" stroke-width="0.6"/>
<circle cx="530.9" cy="374.98" r="3.3" fill="#33a02c" stroke="#333" stroke-opacity="0.85" stroke-width="0.6"/>
<circle cx="533.1" cy="380.37" r="3.3" fill="#33a02c" stroke="#333" stroke-opacity="0.85" stroke-width="0.6"/>
<circle cx="529" cy="385.76" r="3.3" fill="#33a02c" stroke="#333" stroke-opacity="0.85" stroke-width="0.6"/>
<circle cx="540.1" cy="391.15" r="3.3" fill="#33a02c" stroke="#333" stroke-opacity="0.85" stroke-width="0.6"/>
<circle cx="540.1" cy="396.54" r="3.3" fill="#33a02c" stroke="#333" stroke-opacity="0.85" stroke-width="0.6"/>
<circle cx="540.1" cy="401.92" r="3.3" fill="#33a02c" stroke="#333" stroke-opacity="0.85" stroke-width="0.6"/>
<circle cx="540.1" cy="407.31" r="3.3" fill="#33a02c" stroke="#333" stroke-opacity="0.85" stroke-width="0.6"/>
<circle cx="540.1" cy="412.7" r="3.3" fill="#33a02c" stroke="#333" stroke-opacity="0.85" stroke-width="0.6"/>
<circle cx="529" cy="418.09" r="3.3" fill="#ffff99" stroke="#333" stroke-opacity="0.85" stroke-width="0.6"/>
<circle cx="533.4" cy="423.48" r="3.3" fill="#ff7f00" stroke="#333" stroke-opacity="0.85" stroke-width="0.6"/>
<circle cx="533.4" cy="428.87" r="3.3" fill="#ff7f00" stroke="#333" stroke-opacity="0.85" stroke-width="0.6"/>
<circle cx="537.2" cy="434.26" r="3.3" fill="#ff7f00" stroke="#333" stroke-opacity="0.85" stroke-width="0.6"/>
<circle cx="551.8" cy="439.65" r="3.3" fill="#ff7f00" stroke="#333" stroke-opacity="0.85" stroke-width="0.6"/>
<circle cx="555.3" cy="445.04" r="3.3" fill="#e31a1c" stroke="#333" stroke-opacity="0.85" stroke-width="0.6"/>
<circle cx="544.2" cy="450.43" r="3.3" fill="#e31a1c" stroke="#333" stroke-opacity="0.85" stroke-width="0.6"/>
<circle cx="551.8" cy="455.82" r="3.3" fill="#e31a1c" stroke="#333" stroke-opacity="0.85" stroke-width="0.6"/>
<circle cx="551.8" cy="461.21" r="3.3" fill="#e31a1c" stroke="#333" stroke-opacity="0.85" stroke-width="0.6"/>
<circle cx="529.6" cy="466.6" r="3.3" fill="#8dd3c7" stroke="#333" stroke-opacity="0.85" stroke-width="0.6"/>
<circle cx="529.6" cy="471.99" r="3.3" fill="#8dd3c7" stroke="#333" stroke-opacity="0.85" stroke-width="0.6"/>
<circle cx="529.6" cy="477.38" r="3.3" fill="#8dd3c7" stroke="#333" stroke-opacity="0.85" stroke-width="0.6"/>
<circle cx="522.3" cy="482.77" r="3.3" fill="#8dd3c7" stroke="#333" stroke-opacity="0.85" stroke-width="0.6"/>
<circle cx="525.9" cy="488.16" r="3.3" fill="#8dd3c7" stroke="#333" stroke-opacity="0.85" stroke-width="0.6"/>
<circle cx="525.9" cy="493.54" r="3.3" fill="#8dd3c7" stroke="#333" stroke-opacity="0.85" stroke-width="0.6"/>
<circle cx="537" cy="498.93" r="3.3" fill="#8dd3c7" stroke="#333" stroke-opacity="0.85" stroke-width="0.6"/>
<circle cx="530.8" cy="504.32" r="3.3" fill="#8dd3c7" stroke="#333" stroke-opacity="0.85" stroke-width="0.6"/>
<circle cx="527.3" cy="509.71" r="3.3" fill="#8dd3c7" stroke="#333" stroke-opacity="0.85" stroke-width="0.6"/>
<defs>
<clipPath id="cp0"><rect x="0" y="527" width="166.1" height="256"/></clipPath>
<clipPath id="cp1"><rect x="166.1" y="527" width="166.8" height="256"/></clipPath>
<clipPath id="cp2"><rect x="332.9" y="527" width="169.3" height="256"/></clipPath>
<clipPath id="cp3"><rect x="502.2" y="527" width="182.8" height="256"/></clipPath>
<path id="land" d="M63 548.5L66.6 547L70.7 547.4L73.7 546.9L77.8 549L81.9 551.5L86 552L88.5 550L90.1 549L91.1 551.5L90.1 554.6L88.5 556.6L88 559.7L89 563.8L91.1 567.9L93.1 572L94.2 574L93.1 578.1L91.6 582.2L90.1 586.3L88 589.3L83.9 592.4L80.9 595.5L78.5 598L76.5 601L75.5 605L76.1 608L78.1 611L79.4 616.3L82 621.5L86 624.2L89.9 622.8L93.9 621.5L99.1 621.5L103.1 622.8L105.7 626.8L108.3 629.4L111 632L113.6 634.7L116.2 636L118.8 638.6L121.5 642.6L122.8 646.5L120.1 647.8L117.5 645.2L113.6 642.6L109.6 639.9L105.7 637.3L103.1 634.7L100.4 632L97.8 629.4L96 628L95.2 633.4L97.8 638.6L96.5 639.9L93.9 636L89.9 632L86 629.4L82 626.8L79.4 625.5L76.8 628.1L74.2 630.7L70.2 632L65.6 630.7L63.6 628.1L63 622.8L61 618.9L58.4 615L55.8 609.7L53.1 604.5L51.8 600.5L50.5 595.3L49.7 590L49.7 588.3L51.2 586.3L54.3 586.3L57.4 584.2L58.4 580.1L58.4 575L57.9 569.9L58.4 564.8L58.9 560.7L59.9 556.6L62 551.5ZM84.2 609.5L85.5 609L86.8 612L86.6 615.5L85.3 615ZM59.7 636L66.3 635.3L72.8 638.6L76.8 642.6L78.1 647.8L76.8 653.1L74.2 657L70.2 655.7L68.9 650.4L66.3 645.2L62.3 639.9ZM84.7 636L87.3 637.3L86 639.9L83.4 638.6ZM120.8 627.5L122.8 626.5L126.1 629.4L124.1 634.7L120.8 632ZM108.6 641L113.7 642L118.8 644.1L120.9 648.2L118.8 649.2L114 645.5L109 643ZM103.5 643.1L105.5 644.5L104.5 646.5L102.8 645ZM107.6 652.3L110.7 653.3L114.7 656.4L117.8 660.4L119.9 664.5L117.8 665L114.7 661.5L110.7 658.4L107.6 655.3ZM123.9 652.3L131.1 651.8L137.2 652.3L141.3 654.3L142.8 657.4L143.4 662.5L145.4 666.6L146.4 670.7L145.4 673.7L142.3 674.7L138.2 673.7L135.2 670.7L132.1 667.6L129 663.5L126.5 659.4L125 655.3ZM125 669.6L129 670.7L131.1 674.7L132.1 678.8L134.2 682.9L136.2 688L137.2 693.1L135.2 697.2L132.1 695.2L130.1 691.1L129 686L127 680.9L126 675.8ZM85.1 663.5L88.2 663L93.3 666.6L98.4 668.6L103.5 670.7L104.5 673.7L100.4 677.8L96.4 680.9L92.3 682.9L88.2 686L85.1 688L84.6 682.9L84.1 675.8L84.6 668.6ZM103.5 678.8L108.6 677.8L110.7 680.9L109.6 685L107.6 690.1L105.5 695.2L104.5 699.3L105.5 704.4L103.5 707.4L99.4 706.4L95.3 703.4L93.3 699.3L94.3 695.2L98.4 693.1L101.5 689L102.5 683.9ZM118.8 674.7L119.9 678.8L118.8 685L116.8 691.1L113.7 697.2L110.7 703.4L108.6 705.4L108.6 701.3L110.7 695.2L113.7 688L116.8 680.9ZM119.9 694.2L123.9 692.6L128 694.2L129 698.2L126 701.3L121.9 702.3L119.9 699.3ZM85.3 752.6L83.9 748.6L85.9 742L87.9 735.5L90.5 730.9L95.8 728.2L101 726.3L103 722.3L105 719.7L110.2 718.4L114.8 719.7L116.8 723.7L116.1 727.6L119.4 726.3L123.4 724.3L126 723L131.2 723L133.3 714.4L136.4 712.4L140.2 711L140.3 705L141 699.5L142.5 696.2L144.5 696.6L146.5 699L148.6 702.2L150.7 706.2L153.7 710.3L155.8 712.4L157.8 717.5L158.9 721.6L159.9 725.7L160.9 729.8L161.9 733.9L162.4 737.9L160.9 742L158.9 745.1L156.8 747.1L155.8 752.3L155.3 755.3L154.3 752.3L153.2 748.2L151.7 744.1L149.7 740L147.6 741L145.6 744.1L144.5 748.2L145.6 752.3L147.1 756.3L146.6 760.4L144.5 764.5L142.5 768.6L140.4 766.6L138.4 762.5L136.5 761.8L132.6 761.8L128.6 759.1L124.7 756.5L120.7 752.6L119.4 747.3L120.7 743.4L119.4 739.4L115.5 735.5L111.5 735.5L107.6 736.8L103.7 739.4L99.7 738.1L95.8 739.4L92.5 743.4L90.5 750L89.2 753.9L87.2 755.2ZM130.3 708.3L132.3 708.3L132.3 710.5L130.3 710.5ZM150.2 697.5L152.5 698.5L152.8 702.5L150.6 702ZM44.1 672.3L45.5 677.1L47 682.8L47.5 685.7L45.1 687.6L42.2 690.5L38.4 693.4L34.5 697.2L31.6 701L27.8 705.8L24 708.7L20.1 712.5L16.3 716.4L12.5 720.2L8.6 724L6.7 725L6.2 722.1L8.6 718.3L12.5 713.5L16.3 709.6L20.1 706.8L24 702.9L28.8 697.2L32.6 692.4L37.4 688.6L41.2 682.8L41.2 678L43.1 673.2ZM50.8 656.8L54 657.2L57.5 659.3L56.8 661.8L54 661L51.5 659.5ZM51.5 662.5L53 663L53 665.8L51.5 665.2ZM49.8 685L52.4 684.6L52.6 686.6L50.2 687.2ZM-3 750.9L2.2 747.2L5.2 746.5L7.4 749.4L10.4 751.7L13.3 754.6L14.8 757.6L16.3 762.8L20.7 764.3L24.4 768L33.3 772.4L44.4 776.9L55 777.8L48 780L30 781L22 783L-3 783ZM5 741L7.2 740.5L7.2 743L5 743ZM75.2 532.8L77 532.8L76.8 534.8L75.2 534.6ZM84.3 529.8L85.8 529.8L85.6 531.6L84.3 531.4ZM73 537.3L74.7 537.3L74.5 539.2L73 539ZM74.5 541.5L76.5 541.5L76.3 543L74.5 543ZM83 540L85 539.4L84.6 542L82.8 542ZM86 651L87.3 651L87.8 656L86.4 656ZM68 761.5L71 761L71 763.5L68 763.5ZM73.5 761L76 760.5L76 763L73.5 763Z"/>
</defs>
<rect x="0" y="527" width="685" height="256" fill="#cbd2d3"/>
<g clip-path="url(#cp0)"><rect x="0" y="527" width="166.1" height="256" fill="#cbd2d3"/>
<use href="#land" transform="translate(0,0)" fill="#efefef" stroke="#efefef" stroke-width="0.6" stroke-linejoin="round"/>
<circle cx="15.8" cy="606.9" r="4.8" fill="none" stroke="#9aa0a2" stroke-opacity="0.5" stroke-width="0.6"/>
<text x="90.3" y="666.9" font-size="4.3" fill="#8f9292">Philippines</text>
<text transform="translate(38.2 744.2) rotate(-36)" font-size="4.2" fill="#a3acae">Sulu Sea</text>
</g>
<g clip-path="url(#cp1)"><rect x="166.1" y="527" width="166.8" height="256" fill="#cbd2d3"/>
<use href="#land" transform="translate(167.3,0)" fill="#efefef" stroke="#efefef" stroke-width="0.6" stroke-linejoin="round"/>
<circle cx="183.1" cy="606.9" r="4.8" fill="none" stroke="#9aa0a2" stroke-opacity="0.5" stroke-width="0.6"/>
<text x="257.6" y="666.9" font-size="4.3" fill="#8f9292">Philippines</text>
<text transform="translate(205.5 744.2) rotate(-36)" font-size="4.2" fill="#a3acae">Sulu Sea</text>
</g>
<g clip-path="url(#cp2)"><rect x="332.9" y="527" width="169.3" height="256" fill="#cbd2d3"/>
<use href="#land" transform="translate(332.6,-1.3)" fill="#efefef" stroke="#efefef" stroke-width="0.6" stroke-linejoin="round"/>
<circle cx="348.4" cy="605.6" r="4.8" fill="none" stroke="#9aa0a2" stroke-opacity="0.5" stroke-width="0.6"/>
<text x="422.9" y="665.6" font-size="4.3" fill="#8f9292">Philippines</text>
<text transform="translate(370.8 742.9) rotate(-36)" font-size="4.2" fill="#a3acae">Sulu Sea</text>
</g>
<g clip-path="url(#cp3)"><rect x="502.2" y="527" width="182.8" height="256" fill="#cbd2d3"/>
<use href="#land" transform="translate(500.9,0)" fill="#efefef" stroke="#efefef" stroke-width="0.6" stroke-linejoin="round"/>
<circle cx="516.7" cy="606.9" r="4.8" fill="none" stroke="#9aa0a2" stroke-opacity="0.5" stroke-width="0.6"/>
<text x="591.2" y="666.9" font-size="4.3" fill="#8f9292">Philippines</text>
<text transform="translate(539.1 744.2) rotate(-36)" font-size="4.2" fill="#a3acae">Sulu Sea</text>
</g>
<rect x="0" y="527" width="1" height="256" fill="#d1d7d8"/>
<rect x="0" y="781.8" width="685" height="1.2" fill="#fff" fill-opacity="0.15"/>
<circle cx="62.15" cy="556.4" r="4.2" fill="#e31a1c"/>
<circle cx="62.15" cy="556.4" r="4.2" fill="none" stroke="#333" stroke-opacity="0.5" stroke-width="0.5"/>
<circle cx="81.9" cy="563.5" r="4.2" fill="#cdebc3"/>
<circle cx="81.9" cy="563.5" r="4.2" fill="none" stroke="#333" stroke-opacity="0.5" stroke-width="0.5"/>
<circle cx="62.5" cy="585.2" r="4.2" fill="#fb8072"/>
<circle cx="62.5" cy="585.2" r="4.2" fill="none" stroke="#333" stroke-opacity="0.5" stroke-width="0.5"/>
<circle cx="64.3" cy="608.9" r="4.2" fill="#fb9a99"/>
<circle cx="64.3" cy="608.9" r="4.2" fill="none" stroke="#333" stroke-opacity="0.5" stroke-width="0.5"/>
<circle cx="68.7" cy="616.6" r="4.2" fill="#b15928"/>
<circle cx="68.7" cy="616.6" r="4.2" fill="none" stroke="#333" stroke-opacity="0.5" stroke-width="0.5"/>
<circle cx="70.7" cy="615" r="4.2" fill="#b2df8a"/>
<circle cx="70.7" cy="615" r="4.2" fill="none" stroke="#333" stroke-opacity="0.5" stroke-width="0.5"/>
<circle cx="102" cy="683.4" r="4.2" fill="#6a3d9a"/>
<circle cx="102" cy="683.4" r="4.2" fill="none" stroke="#333" stroke-opacity="0.5" stroke-width="0.5"/>
<circle cx="117.4" cy="689.8" r="4.2" fill="#ffff99"/>
<circle cx="117.4" cy="689.8" r="4.2" fill="none" stroke="#333" stroke-opacity="0.5" stroke-width="0.5"/>
<circle cx="117.1" cy="701.1" r="4.2" fill="#33a02c"/>
<circle cx="117.1" cy="701.1" r="4.2" fill="none" stroke="#333" stroke-opacity="0.5" stroke-width="0.5"/>
<circle cx="130.2" cy="720.5" r="4.2" fill="#ff7f00"/>
<circle cx="130.2" cy="720.5" r="4.2" fill="none" stroke="#333" stroke-opacity="0.5" stroke-width="0.5"/>
<circle cx="87" cy="747" r="4.2" fill="#8dd3c7"/>
<circle cx="87" cy="747" r="4.2" fill="none" stroke="#333" stroke-opacity="0.5" stroke-width="0.5"/>
<circle cx="229.4" cy="556.2" r="4.2" fill="#fc9595"/>
<circle cx="229.4" cy="556.2" r="4.2" fill="none" stroke="#333" stroke-opacity="0.5" stroke-width="0.5"/>
<circle cx="249.2" cy="563.4" r="4.2" fill="#d0d0d0"/>
<circle cx="249.2" cy="563.4" r="4.2" fill="none" stroke="#333" stroke-opacity="0.5" stroke-width="0.5"/>
<circle cx="231.4" cy="608.8" r="4.2" fill="#d0d0d0"/>
<circle cx="231.4" cy="608.8" r="4.2" fill="none" stroke="#333" stroke-opacity="0.5" stroke-width="0.5"/>
<path d="M236.3 616.2L234.86 612.25A4.2 4.2 0 0 1 240.5 616.2Z" fill="#8c5a4c"/>
<path d="M236.3 616.2L240.5 616.2A4.2 4.2 0 1 1 234.86 612.25Z" fill="#fc9595"/>
<circle cx="236.3" cy="616.2" r="4.2" fill="none" stroke="#333" stroke-opacity="0.5" stroke-width="0.5"/>
<path d="M269.4 683.4L269.4 679.2A4.2 4.2 0 0 1 273.35 681.96Z" fill="#ffffff"/>
<path d="M269.4 683.4L273.35 681.96A4.2 4.2 0 0 1 267.96 687.35Z" fill="#fc9595"/>
<path d="M269.4 683.4L267.96 687.35A4.2 4.2 0 0 1 269.4 679.2Z" fill="#b07aa1"/>
<circle cx="269.4" cy="683.4" r="4.2" fill="none" stroke="#333" stroke-opacity="0.5" stroke-width="0.5"/>
<path d="M284.7 689.6L284.7 685.4A4.2 4.2 0 0 1 288.76 688.51Z" fill="#fc9595"/>
<path d="M284.7 689.6L288.76 688.51A4.2 4.2 0 0 1 288.88 689.97Z" fill="#b07aa1"/>
<path d="M284.7 689.6L288.88 689.97A4.2 4.2 0 1 1 284.7 685.4Z" fill="#fc9595"/>
<circle cx="284.7" cy="689.6" r="4.2" fill="none" stroke="#333" stroke-opacity="0.5" stroke-width="0.5"/>
<circle cx="284.4" cy="701.1" r="4.2" fill="#fc9595"/>
<circle cx="284.4" cy="701.1" r="4.2" fill="none" stroke="#333" stroke-opacity="0.5" stroke-width="0.5"/>
<circle cx="297.4" cy="720.2" r="4.2" fill="#fc9595"/>
<circle cx="297.4" cy="720.2" r="4.2" fill="none" stroke="#333" stroke-opacity="0.5" stroke-width="0.5"/>
<path d="M254.7 747L256.14 743.05A4.2 4.2 0 0 1 258.9 747Z" fill="#8c5a4c"/>
<path d="M254.7 747L258.9 747A4.2 4.2 0 1 1 256.14 743.05Z" fill="#fc9595"/>
<circle cx="254.7" cy="747" r="4.2" fill="none" stroke="#333" stroke-opacity="0.5" stroke-width="0.5"/>
<circle cx="394.8" cy="555.1" r="4.2" fill="#ff0000"/>
<circle cx="414.5" cy="561.9" r="4.2" fill="#ff0000"/>
<circle cx="396.9" cy="607.5" r="4.2" fill="#ff0000"/>
<path d="M401.8 615.1L400.36 611.15A4.2 4.2 0 0 1 405.98 615.47Z" fill="#ff0000"/>
<path d="M401.8 615.1L405.98 615.47A4.2 4.2 0 1 1 400.36 611.15Z" fill="#ffa500"/>
<path d="M434.7 682L436.14 678.05A4.2 4.2 0 0 1 438.88 682.37Z" fill="#ff0000"/>
<path d="M434.7 682L438.88 682.37A4.2 4.2 0 1 1 436.14 678.05Z" fill="#ffa500"/>
<circle cx="450.1" cy="688.3" r="4.2" fill="#ff0000"/>
<circle cx="449.8" cy="699.5" r="4.2" fill="#ff0000"/>
<circle cx="462.9" cy="718.8" r="4.2" fill="#ff0000"/>
<circle cx="420" cy="745.7" r="4.2" fill="#ff0000"/>
<circle cx="563" cy="556.4" r="4.2" fill="#b9558e"/>
<circle cx="563" cy="556.4" r="4.2" fill="none" stroke="#333" stroke-opacity="0.5" stroke-width="0.5"/>
<circle cx="582.8" cy="563.4" r="4.2" fill="#2d5682"/>
<circle cx="582.8" cy="563.4" r="4.2" fill="none" stroke="#333" stroke-opacity="0.5" stroke-width="0.5"/>
<circle cx="565.4" cy="609" r="4.2" fill="#ffffff"/>
<circle cx="565.4" cy="609" r="4.2" fill="none" stroke="#333" stroke-opacity="0.5" stroke-width="0.5"/>
<circle cx="570" cy="616.5" r="4.2" fill="#55bd85"/>
<circle cx="570" cy="616.5" r="4.2" fill="none" stroke="#333" stroke-opacity="0.5" stroke-width="0.5"/>
<path d="M603 683.4L603 679.2A4.2 4.2 0 0 1 607.18 683.77Z" fill="#bb656d"/>
<path d="M603 683.4L607.18 683.77A4.2 4.2 0 1 1 603 679.2Z" fill="#55bd85"/>
<circle cx="603" cy="683.4" r="4.2" fill="none" stroke="#333" stroke-opacity="0.5" stroke-width="0.5"/>
<path d="M618.4 689.6L614.59 687.83A4.2 4.2 0 0 1 622.58 689.23Z" fill="#b9855a"/>
<path d="M618.4 689.6L622.58 689.23A4.2 4.2 0 0 1 622.54 690.33Z" fill="#ffffff"/>
<path d="M618.4 689.6L622.54 690.33A4.2 4.2 0 0 1 615.09 692.19Z" fill="#8457be"/>
<path d="M618.4 689.6L615.09 692.19A4.2 4.2 0 0 1 614.59 687.83Z" fill="#b9558e"/>
<circle cx="618.4" cy="689.6" r="4.2" fill="none" stroke="#333" stroke-opacity="0.5" stroke-width="0.5"/>
<path d="M618 701.1L618 696.9A4.2 4.2 0 0 1 622.2 701.1Z" fill="#b9558e"/>
<path d="M618 701.1L622.2 701.1A4.2 4.2 0 0 1 620.1 704.74Z" fill="#ffffff"/>
<path d="M618 701.1L620.1 704.74A4.2 4.2 0 1 1 618 696.9Z" fill="#b9558e"/>
<circle cx="618" cy="701.1" r="4.2" fill="none" stroke="#333" stroke-opacity="0.5" stroke-width="0.5"/>
<path d="M631 720.2L626.8 720.2A4.2 4.2 0 0 1 635.2 720.2Z" fill="#b9558e"/>
<path d="M631 720.2L635.2 720.2A4.2 4.2 0 0 1 626.8 720.2Z" fill="#8457be"/>
<circle cx="631" cy="720.2" r="4.2" fill="none" stroke="#333" stroke-opacity="0.5" stroke-width="0.5"/>
<circle cx="588" cy="747" r="4.2" fill="#b9558e"/>
<circle cx="588" cy="747" r="4.2" fill="none" stroke="#333" stroke-opacity="0.5" stroke-width="0.5"/>
<g fill="#000" stroke="#000" stroke-width="0.18">
<text transform="translate(2.6 775.5) scale(1 1.07)" font-size="11.3">Sentinel site</text>
<text transform="translate(169.8 775.5) scale(1 1.07)" font-size="11.3">Resistance profile</text>
<text transform="translate(339.4 775.5) scale(1 1.07)" font-size="11"><tspan font-style="italic">bla</tspan>NDM</text>
<text transform="translate(507.1 775.5) scale(1 1.07)" font-size="11.3">NDM plasmid</text>
</g>
</svg></body></html>
